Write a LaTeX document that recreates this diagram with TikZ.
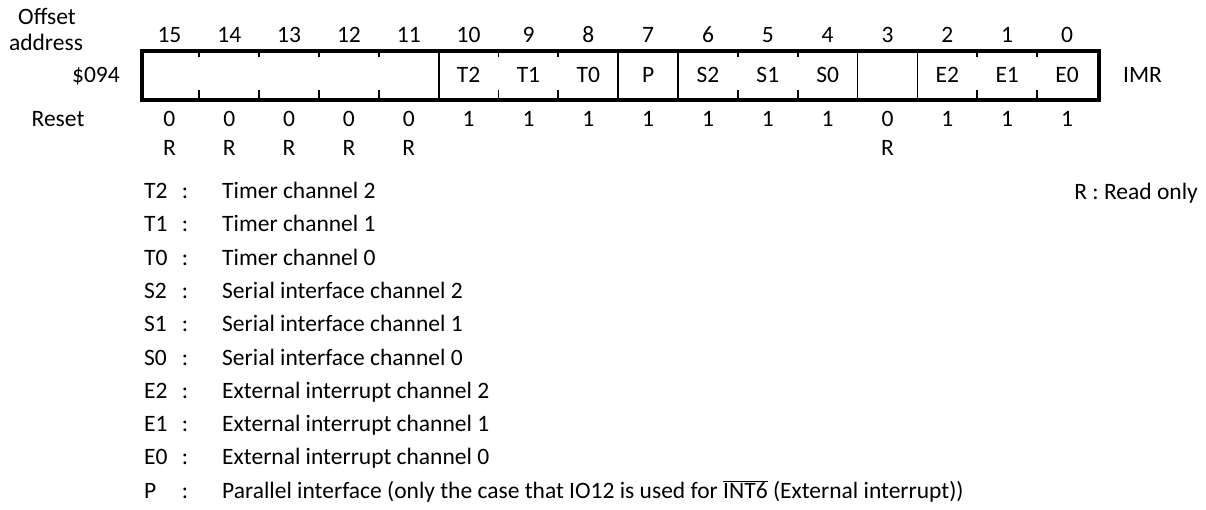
\documentclass[tikz,border=0pt]{standalone}
\usepackage{fontspec}
\setmainfont{Carlito}
\begin{document}
\begin{tikzpicture}[x=1pt,y=-1pt,
  every node/.style={font=\fontsize{23.5}{28}\selectfont, inner sep=0pt},
  frame/.style={line width=4pt},
  sepline/.style={line width=1.8pt},
  tickline/.style={line width=1.8pt},
  bitnum/.style={anchor=base},
  cell/.style={anchor=base},
  rst/.style={anchor=base},
  key/.style={anchor=base west},
  desc/.style={anchor=base west}]
\useasboundingbox (0,0) rectangle (1206,510);
\def\Lx{139.5}
\def\Wc{59.84}
\def\Top{49.5}
\def\Bot{98.5}
% register frame
\node[draw, frame, minimum width=957.5pt, minimum height=49pt, anchor=north west] (reg) at (\Lx,\Top) {};
% full separators
\foreach \j in {5,8,9,12,13} {
  \coordinate (st\j) at ({\Lx+\j*\Wc},\Top);
  \coordinate (sb\j) at ({\Lx+\j*\Wc},\Bot);
  \draw[sepline] (st\j) -- (sb\j);
}
% short ticks
\foreach \j in {1,2,3,4,6,7,10,11,14,15} {
  \coordinate (tt\j) at ({\Lx+\j*\Wc},\Top);
  \coordinate (tb\j) at ({\Lx+\j*\Wc},\Bot);
  \draw[tickline] (tt\j) -- ++(0,8);
  \draw[tickline] (tb\j) -- ++(0,-8);
}
% bit numbers
\foreach \b [count=\k from 0] in {15,14,13,12,11,10,9,8,7,6,5,4,3,2,1,0} {
  \node[bitnum] (n\b) at ({\Lx+(\k+0.5)*\Wc},42.5) {\b};
}
% cell labels
\foreach \k/\t in {5/T2,6/T1,7/T0,8/P,9/S2,10/S1,11/S0,13/E2,14/E1,15/E0} {
  \node[cell] (c\k) at ({\Lx+(\k+0.5)*\Wc},82.5) {\t};
}
% reset values
\foreach \v [count=\k from 0] in {0,0,0,0,0,1,1,1,1,1,1,1,0,1,1,1} {
  \node[rst] (r\k) at ({\Lx+(\k+0.5)*\Wc},127) {\v};
}
\foreach \k in {0,1,2,3,4,12} {
  \node[rst] (ro\k) at ({\Lx+(\k+0.5)*\Wc},156) {R};
}
% left labels
\node[anchor=base] (off) at (47,25) {Offset};
\node[anchor=base] (addr) at (46,50.5) {address};
\node[anchor=base east] (adr) at (120,82.5) {\$094};
\node[anchor=base] (reset) at (58,127) {Reset};
\node[anchor=base west] (imr) at (1123,82.5) {IMR};
\node[anchor=base east] (ronly) at (1198,200) {R : Read only};
% legend
\foreach \t/\d [count=\i from 0] in {T2/Timer channel 2,T1/Timer channel 1,T0/Timer channel 0,S2/Serial interface channel 2,S1/Serial interface channel 1,S0/Serial interface channel 0,E2/External interrupt channel 2,E1/External interrupt channel 1,E0/External interrupt channel 0} {
  \node[key] (k\i) at (144,{198.5+33.3*\i}) {\t};
  \node[anchor=base] (col\i) at (185,{198.5+33.3*\i}) {:};
  \node[desc] (d\i) at (222,{198.5+33.3*\i}) {\d};
}
\node[key] (k9) at (144,{198.5+33.3*9}) {P};
\node[anchor=base] (col9) at (185,{198.5+33.3*9}) {:};
\node[desc] (d9) at (222,{198.5+33.3*9}) {Parallel interface (only the case that IO12 is used for $\overline{\hbox{INT6}}$ (External interrupt))};
\end{tikzpicture}
\end{document}
